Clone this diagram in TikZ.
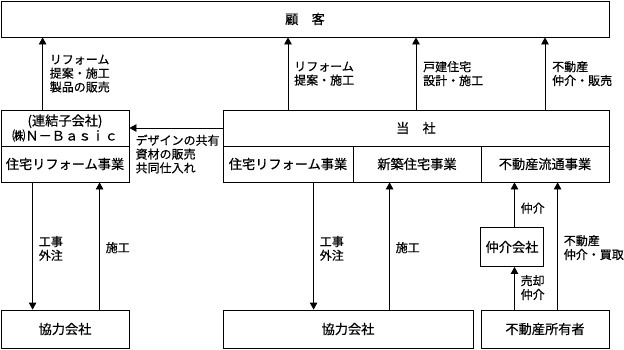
\documentclass[tikz,border=0pt]{standalone}
\usepackage{fontspec}
\setmainfont{Noto Sans CJK JP}[FakeBold=0.5]
\usetikzlibrary{arrows.meta,positioning,calc}

\tikzset{
  box/.style={draw, line width=.8pt, inner sep=0pt, minimum height=36pt,
    font=\fontsize{13.2}{15}\selectfont},
  arr/.style={line width=.8pt, -{Triangle[length=7pt,width=7.5pt]}},
  lbl/.style={anchor=west, align=left, inner sep=0pt,
    font=\fontsize{12}{13.8}\selectfont}
}

\begin{document}
\begin{tikzpicture}[x=1pt, y=-1pt]
\useasboundingbox (0,0) rectangle (624,349);

% customers
\node[box, minimum width=608pt] (kokyaku) at (305,19) {顧　客};

% subsidiary
\node[box, minimum width=128pt, align=center] (basic) at (65,128) {(連結子会社)\\㈱Ｎ－Ｂａｓｉｃ};
\node[box, minimum width=128pt] (basicReform) at (65,164) {住宅リフォーム事業};

% the company
\node[box, minimum width=386pt] (tosha) at (416,128) {当　社};
\node[box, minimum width=130pt] (jutaku) at (288,164) {住宅リフォーム事業};
\node[box, minimum width=128pt] (shinchiku) at (417,164) {新築住宅事業};
\node[box, minimum width=128pt] (ryutsu) at (545,164) {不動産流通事業};

% bottom row
\node[box, minimum width=128pt, minimum height=38pt] (kyoryokuL) at (65,329) {協力会社};
\node[box, minimum width=250pt, minimum height=38pt] (kyoryokuR) at (348,329) {協力会社};
\node[box, minimum width=128pt, minimum height=38pt] (shoyusha) at (545,329) {不動産所有者};
\node[box, minimum width=63pt, minimum height=39pt] (chukai) at (512,247) {仲介会社};

% to customers
\draw[arr] ([xshift=42pt]basic.north west) coordinate (a1) -- (a1 |- kokyaku.south);
\node[lbl] at ($(a1)+(7,-36)$) {リフォーム\\提案・施工\\製品の販売};
\draw[arr] (tosha.north -| jutaku) coordinate (a2) -- (a2 |- kokyaku.south);
\node[lbl] at ($(a2)+(6,-36)$) {リフォーム\\提案・施工};
\draw[arr] (tosha.north) coordinate (a3) -- (a3 |- kokyaku.south);
\node[lbl] at ($(a3)+(7,-36)$) {戸建住宅\\設計・施工};
\draw[arr] (tosha.north -| ryutsu) coordinate (a4) -- (a4 |- kokyaku.south);
\node[lbl] at ($(a4)+(7,-36)$) {不動産\\仲介・販売};

% company to subsidiary
\draw[arr] (tosha.west) -- (basic.east);
\node[lbl] at ($(basic.east)+(6,26)$) {デザインの共有\\資材の販売\\共同仕入れ};

% partners
\draw[arr] ([xshift=32pt]basicReform.south west) coordinate (b1) -- (b1 |- kyoryokuL.north);
\node[lbl] at ($(b1)+(6,66)$) {工事\\外注};
\draw[arr] ([xshift=99pt]kyoryokuL.north west) coordinate (b2) -- (b2 |- basicReform.south);
\node[lbl] at ($(b2)+(6,-62)$) {施工};
\draw[arr] ([xshift=91pt]jutaku.south west) coordinate (b3) -- (b3 |- kyoryokuR.north);
\node[lbl] at ($(b3)+(6,66)$) {工事\\外注};
\draw[arr] ([xshift=167pt]kyoryokuR.north west) coordinate (b4) -- (b4 |- shinchiku.south);
\node[lbl] at ($(b4)+(6,-62)$) {施工};

% real estate
\draw[arr] ([xshift=2.5pt]chukai.north) coordinate (c1) -- (c1 |- ryutsu.south);
\node[lbl] at ($(c1)+(6,-19)$) {仲介};
\draw[arr] (shoyusha.north -| c1) coordinate (c2) -- (c2 |- chukai.south);
\node[lbl] at ($(c2)+(6,-22)$) {売却\\仲介};
\draw[arr] ([xshift=77pt]shoyusha.north west) coordinate (c3) -- (c3 |- ryutsu.south);
\node[lbl] at ($(c3)+(6,-62)$) {不動産\\仲介・買取};
\end{tikzpicture}
\end{document}
